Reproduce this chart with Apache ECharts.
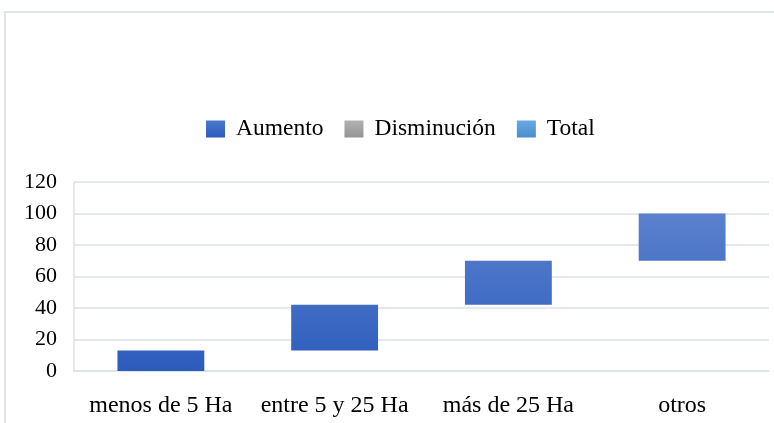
<!DOCTYPE html>
<html style="height: 100%">
<head>
    <meta charset="utf-8">
</head>
<body style="margin:0">
<div id="container" style="width:774px;height:423px"></div>
<script src="https://cdn.jsdelivr.net/npm/echarts@6/dist/echarts.min.js"></script>
<script type="text/javascript">
    // datos del grafico de cascada
    var categorias = ['menos de 5 Ha', 'entre 5 y 25 Ha', 'más de 25 Ha', 'otros'];
    var aumento = [13, 29, 28, 30];
    var disminucion = [];
    var total = [];
    var ticksY = [0, 20, 40, 60, 80, 100, 120];

    // base invisible = suma acumulada de los anteriores
    var base = [];
    var acum = 0;
    for (var i = 0; i < aumento.length; i++) {
        base.push(acum);
        acum += aumento[i];
    }

    var fuente = "'Liberation Serif', 'Times New Roman', serif";
    var dom = document.getElementById('container');
    var myChart = echarts.init(dom);

    var azul = new echarts.graphic.LinearGradient(0, 182, 0, 371, [
        { offset: 0, color: '#6589d0' },
        { offset: 1, color: '#2c5cbc' }
    ], true);
    var azulLeyenda = new echarts.graphic.LinearGradient(0, 0, 0, 1, [
        { offset: 0, color: '#4a78cc' },
        { offset: 1, color: '#2c5cbc' }
    ]);
    var gris = new echarts.graphic.LinearGradient(0, 0, 0, 1, [
        { offset: 0, color: '#b2b2b2' },
        { offset: 1, color: '#949494' }
    ]);
    var celeste = new echarts.graphic.LinearGradient(0, 0, 0, 1, [
        { offset: 0, color: '#6aa8e2' },
        { offset: 1, color: '#4a8dcf' }
    ]);

    var option = {
        animation: false,
        textStyle: { fontFamily: fuente },
        graphic: [{
            type: 'rect',
            shape: { x: 5, y: 12, width: 900, height: 600 },
            style: { fill: 'none', stroke: '#dfe4ea', lineWidth: 2 }
        }],
        legend: {
            top: 112,
            left: 201,
            icon: 'rect',
            itemWidth: 19,
            itemHeight: 17,
            itemGap: 21,
            textStyle: { fontFamily: fuente, fontSize: 23.5, color: '#000', padding: [0, 0, 0, 6] },
            data: [
                { name: 'Aumento', itemStyle: { color: azulLeyenda } },
                { name: 'Disminución', itemStyle: { color: gris } },
                { name: 'Total', itemStyle: { color: celeste } }
            ]
        },
        grid: {
            left: 74,
            right: 5,
            top: 182,
            bottom: 52
        },
        xAxis: {
            type: 'category',
            data: categorias,
            axisLine: { show: true, lineStyle: { color: '#dde2e8', width: 1.5 } },
            axisTick: { show: false },
            axisLabel: { fontFamily: fuente, fontSize: 24, color: '#000', margin: 23, interval: 0 }
        },
        yAxis: {
            type: 'value',
            min: ticksY[0],
            max: ticksY[ticksY.length - 1],
            interval: 20,
            axisLine: { show: true, lineStyle: { color: '#dde2e8', width: 1.5 } },
            axisTick: { show: false },
            splitLine: { lineStyle: { color: '#dde2e8', width: 1.5 } },
            axisLabel: { fontFamily: fuente, fontSize: 22, color: '#000', margin: 17, padding: [4, 0, 0, 0] }
        },
        series: [
            {
                name: 'base',
                type: 'bar',
                stack: 'cascada',
                barWidth: '50%',
                itemStyle: { color: 'transparent' },
                silent: true,
                data: base
            },
            {
                name: 'Aumento',
                type: 'bar',
                stack: 'cascada',
                barWidth: '50%',
                itemStyle: { color: azul },
                data: aumento
            },
            {
                name: 'Disminución',
                type: 'bar',
                stack: 'cascada',
                itemStyle: { color: gris },
                data: disminucion
            },
            {
                name: 'Total',
                type: 'bar',
                stack: 'cascada',
                itemStyle: { color: celeste },
                data: total
            }
        ]
    };

    myChart.setOption(option);
</script>
</body>
</html>
